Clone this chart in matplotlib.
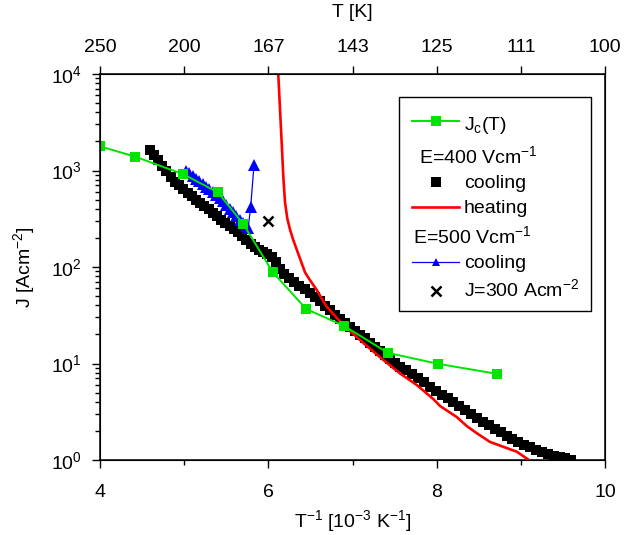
import matplotlib
matplotlib.use("Agg")
import matplotlib.pyplot as plt
from matplotlib.lines import Line2D
from matplotlib.patches import Rectangle

plt.rcParams["font.family"] = ["Liberation Sans", "DejaVu Sans"]
plt.rcParams["mathtext.fontset"] = "custom"
plt.rcParams["mathtext.rm"] = "Liberation Sans"
plt.rcParams["mathtext.it"] = "Liberation Sans:italic"
plt.rcParams["mathtext.bf"] = "Liberation Sans:bold"
plt.rcParams["mathtext.default"] = "regular"

# inverse temperature in 1e-3/K, current density in A/cm^2
jc_x = [4.00, 4.42, 4.99, 5.40, 5.70, 6.05, 6.45, 6.90, 7.42, 8.01, 8.72]
jc_y = [1780, 1390, 914, 594, 281, 89, 36.7, 24.5, 12.9, 9.95, 7.8]

cool400_x = [4.59, 4.64, 4.69, 4.74, 4.79, 4.84, 4.89, 4.94, 4.99, 5.04,
             5.09, 5.14, 5.19, 5.24, 5.29, 5.34, 5.39, 5.44, 5.49, 5.54,
             5.59, 5.64, 5.69, 5.74, 5.79, 5.84, 5.89, 5.94, 5.99, 6.04,
             6.09, 6.14, 6.19, 6.25, 6.31, 6.37, 6.43, 6.49, 6.55, 6.61,
             6.67, 6.73, 6.79, 6.85, 6.91, 6.97, 7.03, 7.09, 7.15, 7.21,
             7.27, 7.33, 7.39, 7.45, 7.51, 7.57, 7.64, 7.71, 7.78, 7.85,
             7.92, 7.99, 8.06, 8.13, 8.20, 8.27, 8.34, 8.41, 8.48, 8.55,
             8.62, 8.69, 8.76, 8.83, 8.90, 8.97, 9.04, 9.11, 9.18, 9.25,
             9.32, 9.39, 9.46, 9.53, 9.60]
cool400_y = [1630, 1445, 1270, 1114, 977, 857, 766, 701, 641, 586,
             540, 500, 462, 428, 396, 365, 337, 310, 287, 266,
             246, 228, 209, 191, 175, 161, 150, 143, 137, 127,
             112, 96, 84.5, 77, 70, 64, 58.5, 53.3, 48.6, 44,
             39.6, 35.6, 32.1, 29.1, 26.4, 23.9, 21.8, 19.9, 18.2, 16.5,
             14.9, 13.5, 12.3, 11.2, 10.2, 9.3, 8.5, 7.8, 7.1, 6.4,
             5.75, 5.2, 4.75, 4.35, 3.96, 3.62, 3.30, 3.01, 2.73, 2.48,
             2.28, 2.10, 1.93, 1.79, 1.67, 1.55, 1.44, 1.35, 1.27, 1.21,
             1.15, 1.11, 1.08, 1.06, 1.01]

heat400_x = [6.118, 6.139, 6.159, 6.178, 6.198, 6.225, 6.257, 6.295, 6.337,
             6.436, 6.495, 6.575, 6.693, 6.871, 7.050, 7.169, 7.366, 7.564,
             7.762, 7.960, 8.040, 8.238, 8.357, 8.475, 8.633, 8.752, 8.951,
             9.089, 9.11]
heat400_y = [10000, 4240, 1915, 863, 470, 320, 245, 192, 152,
             88, 73, 57.8, 38.8, 26.1, 18.8, 15.2, 10.9, 7.9,
             6.0, 4.28, 3.63, 2.79, 2.25, 1.90, 1.54, 1.41, 1.22,
             1.01, 0.93]

cool500_x = [5.02, 5.06, 5.10, 5.14, 5.18, 5.22, 5.26, 5.30, 5.34, 5.38,
             5.42, 5.46, 5.50, 5.54, 5.58, 5.62, 5.66, 5.70, 5.73, 5.76,
             5.79, 5.83]
cool500_y = [1000, 938, 880, 826, 774, 726, 681, 639, 599, 562,
             521, 479, 439, 403, 369, 338, 310, 284, 267, 251,
             419, 1150]

cross_x = [6.0]
cross_y = [300]

bottom_ticks = [4, 6, 8, 10]
bottom_minor = [5, 7, 9]
top_ticks = [4, 5, 6, 7, 8, 9, 10]
top_labels = ["250", "200", "167", "143", "125", "111", "100"]

green = "#00e400"

fig = plt.figure(figsize=(6.34, 5.35), dpi=100)
ax = fig.add_axes([100 / 634, 1 - 460 / 535, 505 / 634, 386 / 535])

ax.plot(cool400_x, cool400_y, "s", color="black", ms=7.8, mew=0, zorder=2)
ax.plot(heat400_x, heat400_y, "-", color="#ff0000", lw=1.9, zorder=3)
ax.plot(cool500_x, cool500_y, "-^", color="#0000ff", lw=0.9, ms=8, mew=0, zorder=4)
ax.plot(jc_x, jc_y, "-s", color=green, lw=1.4, ms=7, mew=0, zorder=5)
ax.plot(cross_x, cross_y, "x", color="black", ms=7, mew=1.8, zorder=5)

ax.set_yscale("log")
ax.set_xlim(4, 10)
ax.set_ylim(1, 1e4)
ax.set_xticks(bottom_ticks)
ax.set_xticks(bottom_minor, minor=True)
ax.tick_params(axis="both", which="major", direction="out", length=6, width=1,
               labelsize=14)
ax.tick_params(axis="both", which="minor", direction="out", length=3.5, width=1)
ax.tick_params(axis="x", which="major", pad=11)
ax.tick_params(axis="y", which="major", pad=7)
for s in ax.spines.values():
    s.set_linewidth(1.1)

ax.set_xlabel(r"T$^{-1}$ [10$^{-3}$ K$^{-1}$]", fontsize=14)
ax.set_ylabel(r"J [Acm$^{-2}$]", fontsize=14)
ax.xaxis.set_label_coords(0.5, -0.125)
ax.yaxis.set_label_coords(-0.125, 0.5)

top = ax.twiny()
top.set_xlim(4, 10)
top.set_xticks(top_ticks)
top.set_xticklabels(top_labels)
top.tick_params(axis="x", direction="out", length=6, width=1, labelsize=14, pad=7)
top.set_xlabel("T [K]", fontsize=14)
top.xaxis.set_label_coords(0.5, 1.148)

# legend box drawn by hand so the field headers can sit left of the labels
tr = ax.transAxes
ax.add_patch(Rectangle((0.592, 0.386), 0.380, 0.554, transform=tr,
                       facecolor="white", edgecolor="black", lw=1, zorder=6))
hx0, hx1, hm, tx = 0.617, 0.711, 0.666, 0.721
fs = 14
ax.add_line(Line2D([hx0, hx1], [0.879, 0.879], color=green, lw=1.4,
                   transform=tr, zorder=7))
ax.add_line(Line2D([hm], [0.879], marker="s", color=green, ms=7, mew=0,
                   transform=tr, zorder=7))
ax.text(tx, 0.855, r"J$_c$(T)", transform=tr, fontsize=fs, va="baseline", zorder=7)
ax.text(0.632, 0.769, r"E=400 Vcm$^{-1}$", transform=tr, fontsize=fs,
        va="baseline", zorder=7)
ax.add_line(Line2D([hm], [0.721], marker="s", color="black", ms=6.5, mew=0,
                   transform=tr, zorder=7))
ax.text(tx, 0.704, "cooling", transform=tr, fontsize=fs, va="baseline", zorder=7)
ax.add_line(Line2D([hx0, hx1], [0.656, 0.656], color="#ff0000", lw=1.9,
                   transform=tr, zorder=7))
ax.text(tx, 0.641, "heating", transform=tr, fontsize=fs, va="baseline", zorder=7)
ax.text(0.620, 0.561, r"E=500 Vcm$^{-1}$", transform=tr, fontsize=fs,
        va="baseline", zorder=7)
ax.add_line(Line2D([hx0, hx1], [0.514, 0.514], color="#0000ff", lw=0.9,
                   transform=tr, zorder=7))
ax.add_line(Line2D([hm], [0.514], marker="^", color="#0000ff", ms=6, mew=0,
                   transform=tr, zorder=7))
ax.text(tx, 0.497, "cooling", transform=tr, fontsize=fs, va="baseline", zorder=7)
ax.add_line(Line2D([hm], [0.439], marker="x", color="black", ms=7, mew=1.8,
                   transform=tr, zorder=7))
ax.text(tx, 0.425, r"J=300 Acm$^{-2}$", transform=tr, fontsize=fs,
        va="baseline", zorder=7)

fig.savefig("out.png", dpi=100)
